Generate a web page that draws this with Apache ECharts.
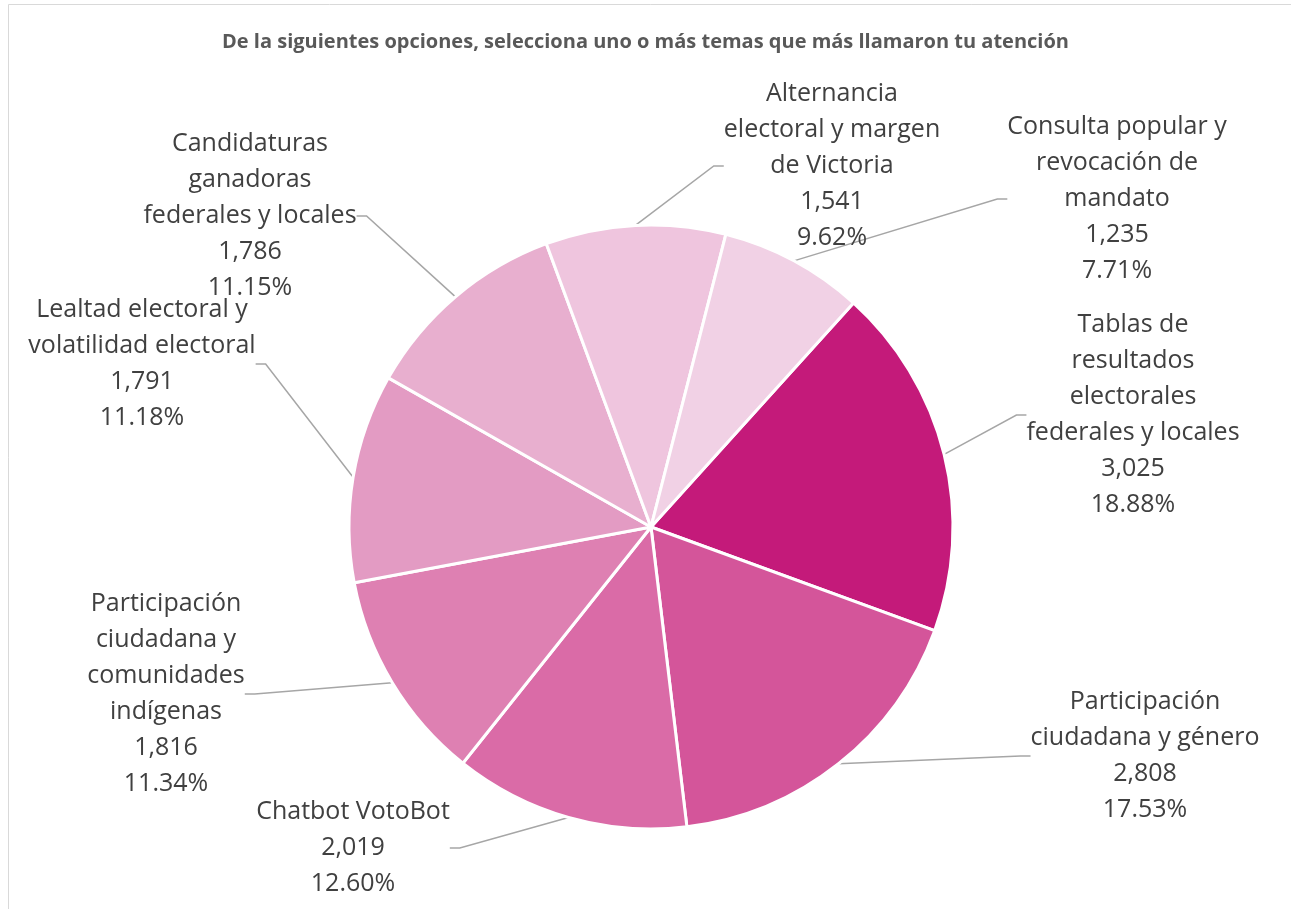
<!DOCTYPE html>
<html>
<head>
<meta charset="utf-8">
<title>Temas</title>
<script src="https://cdn.jsdelivr.net/npm/echarts@6/dist/echarts.min.js"></script>
<style>
  html, body { margin: 0; padding: 0; background: #fff; }
  #temas-pie { width: 1291px; height: 909px; }
</style>
</head>
<body>
<div id="temas-pie"></div>
<script>
// categorias en el orden de las manecillas, empezando por "Tablas"
const categorias = [
  'Tablas de\nresultados\nelectorales\nfederales y locales',
  'Participación\nciudadana y género',
  'Chatbot VotoBot',
  'Participación\nciudadana y\ncomunidades\nindígenas',
  'Lealtad electoral y\nvolatilidad electoral',
  'Candidaturas\nganadoras\nfederales y locales',
  'Alternancia\nelectoral y margen\nde Victoria',
  'Consulta popular y\nrevocación de\nmandato'
];
const valores = [3025, 2808, 2019, 1816, 1791, 1786, 1541, 1235];
const colores = ['#C41A7A', '#D4559A', '#DA6BA7', '#DE80B2', '#E39BC3', '#E8AFCF', '#EFC5DE', '#F1D1E5'];
// centro de cada etiqueta (px)
const posEtiquetas = [
  [1133, 415], [1145, 756], [353, 848], [166, 694],
  [142, 364], [250, 216], [832, 166], [1117, 199]
];

const total = valores.reduce((a, b) => a + b, 0);
const fmt = v => v.toString().replace(/\B(?=(\d{3})+(?!\d))/g, ',');

const chartObj = echarts.init(document.getElementById('temas-pie'));
const option = {
  backgroundColor: '#fff',
  animation: false,
  title: {
    text: 'De la siguientes opciones, selecciona uno o más temas que más llamaron tu atención',
    left: 'center',
    top: 27,
    textStyle: {
      fontFamily: 'Open Sans',
      fontWeight: 'bold',
      fontSize: 20,
      color: '#595959'
    }
  },
  graphic: [{
    type: 'rect',
    silent: true,
    z: -1,
    shape: { x: 8.5, y: 4.5, width: 1400, height: 1000 },
    style: { fill: 'none', stroke: '#d9d9d9', lineWidth: 1 }
  }],
  series: [{
    type: 'pie',
    center: [651, 527],
    radius: 302,
    startAngle: 47.9,
    clockwise: true,
    avoidLabelOverlap: false,
    itemStyle: { borderColor: '#fff', borderWidth: 3 },
    label: {
      show: true,
      position: 'outside',
      fontFamily: 'Open Sans',
      fontSize: 25,
      lineHeight: 36,
      color: '#404040',
      align: 'center',
      formatter: p => p.name + '\n' + fmt(p.value) + '\n' + (p.value / total * 100).toFixed(2) + '%'
    },
    labelLine: {
      show: true,
      length: 20,
      length2: 10,
      lineStyle: { color: '#a6a6a6', width: 1.5 }
    },
    labelLayout: params => {
      const p = posEtiquetas[params.dataIndex];
      return { x: p[0], y: p[1], align: 'center', verticalAlign: 'middle' };
    },
    data: categorias.map((c, i) => ({
      name: c,
      value: valores[i],
      itemStyle: { color: colores[i] }
    }))
  }]
};
chartObj.setOption(option);
</script>
</body>
</html>
